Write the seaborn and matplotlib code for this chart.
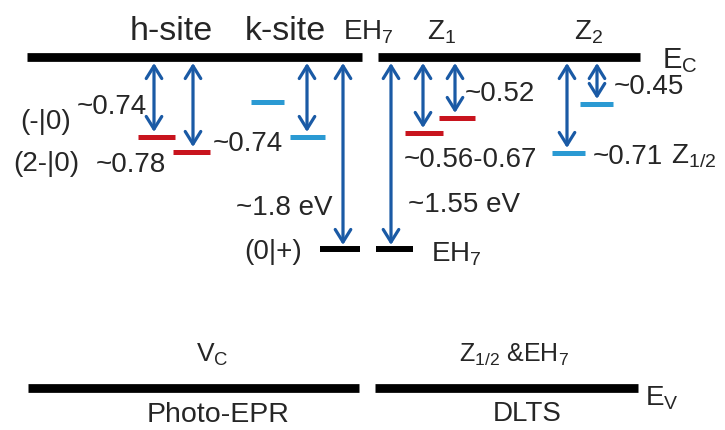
import numpy as np
import pandas as pd
import matplotlib
matplotlib.use("Agg")
import matplotlib.pyplot as plt
import seaborn as sns

# ---- data (diagram coordinates: x across, y downward in drawing units) ----
band_names = ["Ec_left", "Ec_right", "Ev_left", "Ev_right"]
band_x0 = [27, 378, 28, 375]
band_x1 = [362, 640, 359, 638]
band_y = [57, 57, 388, 388]

level_names = ["h1", "h2", "k_upper", "k", "EH7_left", "EH7_right", "Z1a", "Z1b", "Z2a", "Z2b"]
level_x0 = [138, 173, 251, 290, 320, 376, 405, 439, 552, 580]
level_x1 = [175, 210, 284, 325, 360, 413, 443, 475, 585, 613]
level_y = [137, 152, 102, 137, 249, 249, 133, 118, 153, 104]
level_kind = ["red", "red", "cyan", "cyan", "black", "black", "red", "red", "cyan", "cyan"]

arrow_x = [154, 193, 307, 343, 391, 423, 455, 567, 597]
arrow_top = [63, 63, 63, 63, 63, 63, 63, 63, 63]
arrow_bottom = [132, 147, 132, 245, 245, 128, 113, 148, 99]

sns.set_theme(style="white")
plt.rcParams["font.family"] = ["Liberation Sans", "DejaVu Sans"]
plt.rcParams["mathtext.fontset"] = "custom"
plt.rcParams["mathtext.rm"] = "Liberation Sans"
plt.rcParams["mathtext.it"] = "Liberation Sans:italic"
plt.rcParams["mathtext.bf"] = "Liberation Sans:bold"

colors = {"red": "#c8141e", "cyan": "#2b9ad3", "black": "#000000"}
arrow_color = "#1a5aa5"

fig = plt.figure(figsize=(7.25, 4.30), dpi=100)
ax = fig.add_axes([0, 0, 1, 1])
ax.set_xlim(0, 725)
ax.set_ylim(430, 0)
ax.axis("off")

# bands
bands = pd.DataFrame({
    "x": band_x0 + band_x1,
    "y": band_y + band_y,
    "name": band_names + band_names,
})
sns.lineplot(data=bands, x="x", y="y", units="name", estimator=None,
             color="black", lw=6.3, solid_capstyle="butt", ax=ax, sort=False)

# levels
lv = pd.DataFrame({
    "x": level_x0 + level_x1,
    "y": level_y + level_y,
    "name": level_names + level_names,
    "kind": level_kind + level_kind,
})
for kind, sub in lv.groupby("kind"):
    lw = 4.3 if kind == "black" else 3.6
    sns.lineplot(data=sub, x="x", y="y", units="name", estimator=None,
                 color=colors[kind], lw=lw, solid_capstyle="butt", ax=ax, sort=False)

# arrows
for x, t, b in zip(arrow_x, arrow_top, arrow_bottom):
    ax.annotate("", xy=(x, b), xytext=(x, t),
                arrowprops=dict(arrowstyle="<->,head_length=0.45,head_width=0.28",
                                mutation_scale=20, color=arrow_color, lw=2.3,
                                shrinkA=0, shrinkB=0))

fn = 20
kw = dict(va="baseline")
# top labels
ax.text(171, 40, "h-site", fontsize=24.5, ha="center", **kw)
ax.text(285, 40, "k-site", fontsize=24.5, ha="center", **kw)
ax.text(368, 40, r"EH$_\mathrm{7}$", fontsize=fn, ha="center", **kw)
ax.text(442, 40, r"Z$_\mathrm{1}$", fontsize=fn, ha="center", **kw)
ax.text(589, 40, r"Z$_\mathrm{2}$", fontsize=fn, ha="center", **kw)
ax.text(662, 68, r"E$_\mathrm{C}$", fontsize=21, ha="left", **kw)

# left side labels
ax.text(20, 129, "(-|0)", fontsize=fn, ha="left", **kw)
ax.text(77, 114, "~0.74", fontsize=fn, ha="left", **kw)
ax.text(13, 171, "(2-|0)", fontsize=fn, ha="left", **kw)
ax.text(96, 172, "~0.78", fontsize=fn, ha="left", **kw)
ax.text(213, 151, "~0.74", fontsize=fn, ha="left", **kw)
ax.text(236, 215, "~1.8 eV", fontsize=fn, ha="left", **kw)
ax.text(244, 259, "(0|+)", fontsize=fn, ha="left", **kw)

# right side labels
ax.text(431, 261, r"EH$_\mathrm{7}$", fontsize=fn, ha="left", **kw)
ax.text(465, 101, "~0.52", fontsize=fn, ha="left", **kw)
ax.text(404, 167, "~0.56-0.67", fontsize=fn, ha="left", **kw)
ax.text(408, 212, "~1.55 eV", fontsize=fn, ha="left", **kw)
ax.text(614, 94, "~0.45", fontsize=fn, ha="left", **kw)
ax.text(593, 164, "~0.71", fontsize=fn, ha="left", **kw)
ax.text(671, 164, r"Z$_\mathrm{1/2}$", fontsize=fn, ha="left", **kw)

# bottom labels
ax.text(212, 362, r"V$_\mathrm{C}$", fontsize=19, ha="center", **kw)
ax.text(514, 362, r"Z$_\mathrm{1/2}$ &EH$_\mathrm{7}$", fontsize=18, ha="center", **kw)
ax.text(218, 422, "Photo-EPR", fontsize=20.5, ha="center", **kw)
ax.text(527, 421, "DLTS", fontsize=20, ha="center", **kw)
ax.text(645, 406, r"E$_\mathrm{V}$", fontsize=fn, ha="left", **kw)

fig.savefig("out.png", dpi=100)
